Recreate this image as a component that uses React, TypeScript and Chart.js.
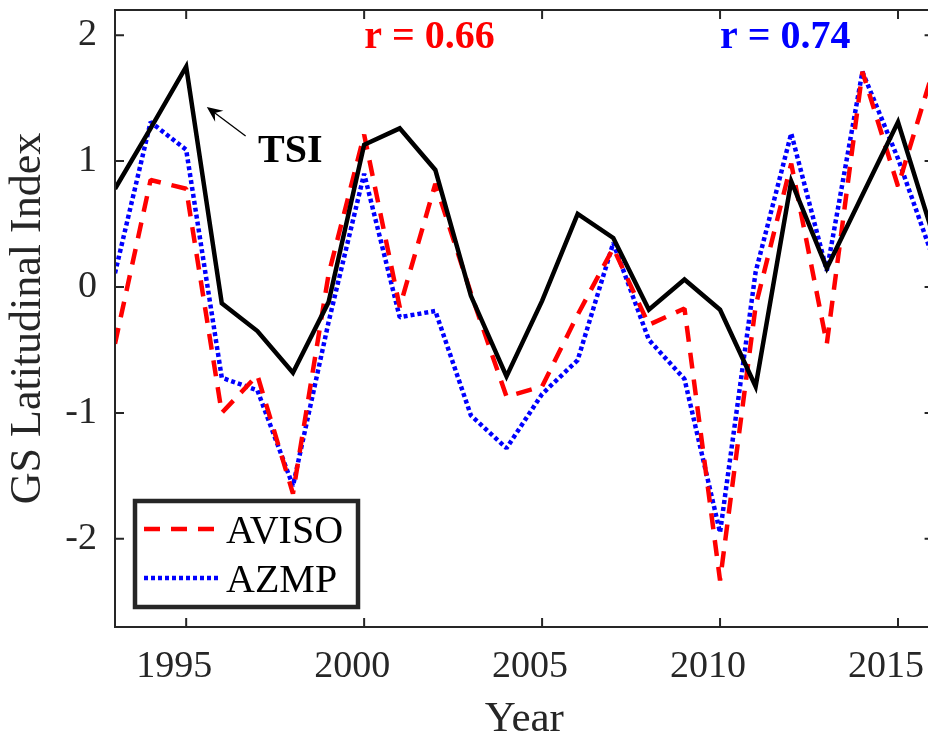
import React, { useEffect, useRef } from 'react';
import { Chart, registerables } from 'chart.js';

Chart.register(...registerables);

// ---------- data ----------
const years = [1993, 1994, 1995, 1996, 1997, 1998, 1999, 2000, 2001, 2002, 2003, 2004,
  2005, 2006, 2007, 2008, 2009, 2010, 2011, 2012, 2013, 2014, 2015, 2016];

const tsi = [0.78, 1.26, 1.75, -0.13, -0.35, -0.68, -0.12, 1.13, 1.26, 0.93, -0.07, -0.71,
  -0.11, 0.58, 0.39, -0.18, 0.06, -0.18, -0.79, 0.84, 0.15, 0.73, 1.31, 0.40];

const aviso = [-0.45, 0.85, 0.78, -1.0, -0.7, -1.64, 0.1, 1.21, -0.16, 0.82, -0.05, -0.87,
  -0.79, -0.22, 0.31, -0.3, -0.17, -2.33, -0.15, 0.98, -0.45, 1.71, 0.8, 1.73];

const azmp = [0.11, 1.31, 1.09, -0.72, -0.82, -1.58, -0.28, 0.9, -0.24, -0.19, -1.02, -1.28,
  -0.85, -0.58, 0.35, -0.42, -0.73, -1.95, 0.12, 1.22, 0.13, 1.71, 1.02, 0.22];

const seriesNames = ['TSI', 'AVISO', 'AZMP'];
const xTickValues = [1995, 2000, 2005, 2010, 2015];
const xTickLabels = ['1995', '2000', '2005', '2010', '2015'];
const yTickValues = [-2, -1, 0, 1, 2];
const yTickLabels = ['-2', '-1', '0', '1', '2'];
const corrLabels = ['r = 0.66', 'r = 0.74'];
const xTitle = 'Year';
const yTitle = 'GS Latitudinal Index';

// ---------- styles ----------
const FONT = '"Liberation Serif", "Times New Roman", Times, serif';
const AX = '#262626';
const RED = '#ff0000';
const BLUE = '#0000ff';
const RED_DASH = [16, 11];
const BLUE_DOT = [4, 3];

const toPoints = (vals: number[]) => years.map((yr, i) => ({ x: yr, y: vals[i] }));

const decor = {
  id: 'decor',
  afterDraw(chart: any) {
    const { ctx, chartArea: a, scales } = chart;
    const x = scales.x;
    const y = scales.y;
    ctx.save();

    // axes box
    ctx.strokeStyle = AX;
    ctx.lineWidth = 2;
    ctx.beginPath();
    ctx.moveTo(a.left, a.top);
    ctx.lineTo(a.right, a.top);
    ctx.lineTo(a.right, a.bottom);
    ctx.lineTo(a.left, a.bottom);
    ctx.closePath();
    ctx.stroke();

    // inward ticks
    const tl = 9;
    ctx.beginPath();
    for (const v of xTickValues) {
      const px = x.getPixelForValue(v);
      ctx.moveTo(px, a.bottom);
      ctx.lineTo(px, a.bottom - tl);
      ctx.moveTo(px, a.top);
      ctx.lineTo(px, a.top + tl);
    }
    for (const v of yTickValues) {
      const py = y.getPixelForValue(v);
      ctx.moveTo(a.left, py);
      ctx.lineTo(a.left + tl, py);
      ctx.moveTo(a.right, py);
      ctx.lineTo(a.right - tl, py);
    }
    ctx.stroke();

    // correlation labels
    ctx.textAlign = 'left';
    ctx.textBaseline = 'alphabetic';
    ctx.font = `bold 40px ${FONT}`;
    ctx.fillStyle = RED;
    ctx.fillText(corrLabels[0], x.getPixelForValue(2000), y.getPixelForValue(1.9));
    ctx.fillStyle = BLUE;
    ctx.fillText(corrLabels[1], x.getPixelForValue(2010), y.getPixelForValue(1.9));

    // TSI annotation
    ctx.fillStyle = '#000';
    ctx.font = `bold 40px ${FONT}`;
    ctx.fillText(seriesNames[0], x.getPixelForValue(1997.02), y.getPixelForValue(0.99));

    const tx = x.getPixelForValue(1995.58);
    const ty = y.getPixelForValue(1.43);
    const sx = x.getPixelForValue(1996.67);
    const sy = y.getPixelForValue(1.2);
    const ang = Math.atan2(ty - sy, tx - sx);
    ctx.strokeStyle = '#000';
    ctx.lineWidth = 1.3;
    ctx.beginPath();
    ctx.moveTo(sx, sy);
    ctx.lineTo(tx - Math.cos(ang) * 8, ty - Math.sin(ang) * 8);
    ctx.stroke();
    const hl = 17;
    const hw = 0.42;
    ctx.beginPath();
    ctx.moveTo(tx, ty);
    ctx.lineTo(tx - hl * Math.cos(ang - hw), ty - hl * Math.sin(ang - hw));
    ctx.lineTo(tx - 10 * Math.cos(ang), ty - 10 * Math.sin(ang));
    ctx.lineTo(tx - hl * Math.cos(ang + hw), ty - hl * Math.sin(ang + hw));
    ctx.closePath();
    ctx.fill();

    // legend (AVISO, AZMP)
    const bx = a.left + 20;
    const by = a.bottom - 126;
    const bw = 223;
    const bh = 106;
    ctx.fillStyle = '#fff';
    ctx.fillRect(bx, by, bw, bh);
    ctx.strokeStyle = AX;
    ctx.lineWidth = 4.5;
    ctx.strokeRect(bx, by, bw, bh);

    const ds = chart.data.datasets;
    const rows = [1, 2];
    rows.forEach((di, r) => {
      const d = ds[di];
      const ly = by + 28 + r * 49;
      ctx.save();
      ctx.strokeStyle = d.borderColor;
      ctx.lineWidth = d.borderWidth;
      ctx.setLineDash(d.borderDash || []);
      ctx.lineCap = 'butt';
      ctx.beginPath();
      ctx.moveTo(bx + 9, ly);
      ctx.lineTo(bx + 84, ly);
      ctx.stroke();
      ctx.restore();
      ctx.fillStyle = '#000';
      ctx.font = `40px ${FONT}`;
      ctx.textAlign = 'left';
      ctx.textBaseline = 'alphabetic';
      ctx.fillText(d.label, bx + 91, ly + 14);
    });

    ctx.restore();
  },
};

export default function App() {
  const ref = useRef<HTMLCanvasElement | null>(null);

  useEffect(() => {
    if (!ref.current) return;
    const chart = new Chart(ref.current, {
      type: 'line',
      data: {
        datasets: [
          {
            label: seriesNames[0],
            data: toPoints(tsi),
            borderColor: '#000',
            borderWidth: 4.5,
            pointRadius: 0,
            tension: 0,
          },
          {
            label: seriesNames[1],
            data: toPoints(aviso),
            borderColor: RED,
            borderWidth: 4.5,
            borderDash: RED_DASH,
            borderJoinStyle: 'bevel',
            pointRadius: 0,
            tension: 0,
          },
          {
            label: seriesNames[2],
            data: toPoints(azmp),
            borderColor: BLUE,
            borderWidth: 4.5,
            borderDash: BLUE_DOT,
            borderJoinStyle: 'bevel',
            pointRadius: 0,
            tension: 0,
          },
        ],
      },
      options: {
        animation: false,
        responsive: false,
        devicePixelRatio: 1,
        layout: { padding: { left: 0, right: 6.4, top: 10, bottom: 0 } },
        plugins: {
          legend: { display: false },
          tooltip: { enabled: false },
          title: { display: false },
        },
        scales: {
          x: {
            type: 'linear',
            min: 1993,
            max: 2016,
            afterBuildTicks: (s: any) => {
              s.ticks = xTickValues.map((v) => ({ value: v }));
            },
            afterFit: (s: any) => {
              s.height = 118;
              s.paddingLeft = 0;
              s.paddingRight = 0;
            },
            grid: { display: false, drawTicks: false },
            border: { display: false },
            ticks: {
              font: { family: FONT, size: 38 },
              color: AX,
              padding: 17,
              labelOffset: -12,
              maxRotation: 0,
              autoSkip: false,
              callback: (v: any) => {
                const i = xTickValues.indexOf(Number(v));
                return i >= 0 ? xTickLabels[i] : '';
              },
            },
            title: {
              display: true,
              text: xTitle,
              color: AX,
              font: { family: FONT, size: 43, lineHeight: 1 },
              padding: { top: 0, bottom: 3.5 },
            },
          },
          y: {
            min: -2.7,
            max: 2.2,
            afterBuildTicks: (s: any) => {
              s.ticks = yTickValues.map((v) => ({ value: v }));
            },
            afterFit: (s: any) => {
              s.width = 115;
              s.paddingTop = 0;
              s.paddingBottom = 0;
            },
            grid: { display: false, drawTicks: false },
            border: { display: false },
            ticks: {
              font: { family: FONT, size: 38 },
              color: AX,
              padding: 18,
              autoSkip: false,
              callback: (v: any) => {
                const i = yTickValues.indexOf(Number(v));
                return i >= 0 ? yTickLabels[i] : '';
              },
            },
            title: {
              display: true,
              text: yTitle,
              color: AX,
              font: { family: FONT, size: 44, lineHeight: 1 },
              padding: { top: 6, bottom: 0 },
            },
          },
        },
      },
      plugins: [decor],
    } as any);
    return () => chart.destroy();
  }, []);

  return (
    <div
      style={{
        position: 'fixed',
        left: 0,
        top: 0,
        width: 928,
        height: 738,
        overflow: 'hidden',
        background: '#fff',
      }}
    >
      <canvas ref={ref} width={940} height={745} style={{ display: 'block' }} />
    </div>
  );
}
